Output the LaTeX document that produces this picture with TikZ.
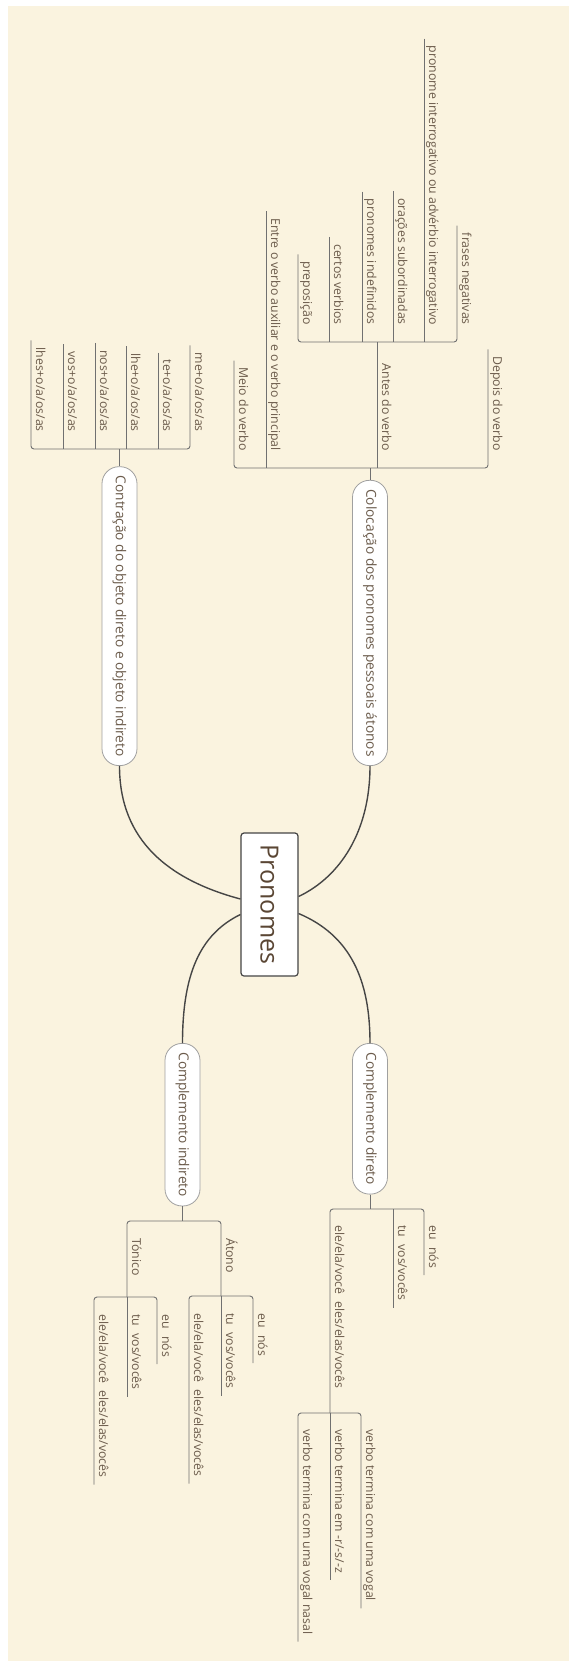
\documentclass[tikz,border=0pt]{standalone}
\usepackage{fontspec}
\setmainfont{Open Sans}
\usepackage{tikz}
\usetikzlibrary{calc}
\definecolor{paper}{HTML}{FAF3DF}
\definecolor{ink}{HTML}{6B5B4B}
\definecolor{rootink}{HTML}{5A4634}
\definecolor{branch}{HTML}{707070}
\definecolor{rootline}{HTML}{454545}
\definecolor{pillline}{HTML}{A0A0A0}
\tikzstyle{root} = [draw=rootline, line width=1.2pt, fill=white, rounded corners=3pt,
    rotate=-90, minimum height=57pt, minimum width=143pt, text=rootink,
    font=\fontsize{25}{30}\selectfont]
\tikzstyle{topic} = [draw=pillline, line width=0.8pt, fill=white, rounded corners=17pt,
    rotate=-90, minimum height=35pt, inner xsep=9pt, text=ink,
    font=\fontsize{13.7}{16}\selectfont]
\tikzstyle{leaf} = [rotate=-90, inner xsep=7pt, inner ysep=2pt, text height=9pt,
    text depth=3pt, text=ink, font=\fontsize{12.3}{15}\selectfont]
\tikzstyle{tree} = [draw=branch, line width=0.9pt, rounded corners=3pt]
\tikzstyle{link} = [draw=rootline, line width=1.4pt]
\newcommand{\gap}{\hspace{0.6em}}

\begin{document}
\begin{tikzpicture}[x=1pt, y=-1pt]
        \useasboundingbox (0, 0) rectangle (569, 1661);
        \fill[paper] (8, 6) rectangle (569, 1661);

        % central topic and main branches
        \node[root, name=pron] at (269.5, 904.5) {Pronomes};
        \node[topic, name=coloc, anchor=east] at (370, 766) {Colocação dos pronomes pessoais átonos};
        \node[topic, name=contr, anchor=east] at (119.5, 766) {Contração do objeto direto e objeto indireto};
        \node[topic, name=cind, anchor=west] at (182.5, 1043) {Complemento indireto};
        \node[topic, name=cdir, anchor=west] at (370, 1043) {Complemento direto};

        \draw[link] ($(pron.north)+(0,-8)$) .. controls +(42,-20) and +(0,65) .. (coloc.east);
        \draw[link] ($(pron.south)+(0,-5.5)$) .. controls +(-71,-19) and +(0,75) .. (contr.east);
        \draw[link] ($(pron.south)+(0,10)$) .. controls +(-41,20) and +(0,-68) .. (cind.west);
        \draw[link] ($(pron.north)+(0,9)$) .. controls +(52,22) and +(0,-63) .. (cdir.west);

        % Colocacao
        \coordinate (colbar) at (370, 468);
        \coordinate (antesbar) at (377, 342);
        \node[leaf, anchor=south east, name=meio] at (234, 458) {Meio do verbo};
        \node[leaf, anchor=south east, name=entre] at (266, 458) {Entre o verbo auxiliar e o verbo principal};
        \node[leaf, anchor=south east, name=antes] at (377, 458) {Antes do verbo};
        \node[leaf, anchor=south east, name=depois] at (488, 458) {Depois do verbo};
        \node[leaf, anchor=south east, name=prep] at (298, 332) {preposição};
        \node[leaf, anchor=south east, name=certos] at (329, 332) {certos verbios};
        \node[leaf, anchor=south east, name=indef] at (362, 332) {pronomes indefinidos};
        \node[leaf, anchor=south east, name=subord] at (393, 332) {orações subordinadas};
        \node[leaf, anchor=south east, name=interrog] at (424, 332) {pronome interrogativo ou advérbio interrogativo};
        \node[leaf, anchor=south east, name=negat] at (457, 332) {frases negativas};

        \draw[tree] (coloc.west) -- (coloc.west |- colbar);
        \draw[tree] (meio.south west) |- (colbar) -| (depois.south west);
        \draw[tree] (entre.south west) -- (entre.south west |- colbar);
        \draw[tree] (antes.south west |- antesbar) -- (antes.south west |- colbar);
        \draw[tree] (prep.south west) |- (antesbar) -| (negat.south west);
        \draw[tree] (certos.south west) -- (certos.south west |- antesbar);
        \draw[tree] (indef.south west) -- (indef.south west |- antesbar);
        \draw[tree] (subord.south west) -- (subord.south west |- antesbar);
        \draw[tree] (interrog.south west) -- (interrog.south west |- antesbar);

        % Contracao
        \coordinate (contrbar) at (119.5, 449);
        \node[leaf, anchor=south east, name=lhes] at (31, 439) {lhes+o/a/os/as};
        \node[leaf, anchor=south east, name=vos] at (63, 439) {vos+o/a/os/as};
        \node[leaf, anchor=south east, name=nos] at (95, 439) {nos+o/a/os/as};
        \node[leaf, anchor=south east, name=lhe] at (126, 439) {lhe+o/a/os/as};
        \node[leaf, anchor=south east, name=te] at (158, 439) {te+o/a/os/as};
        \node[leaf, anchor=south east, name=me] at (190, 439) {me+o/a/os/as};

        \draw[tree] (contr.west) -- (contr.west |- contrbar);
        \draw[tree] (lhes.south west) |- (contrbar) -| (me.south west);
        \draw[tree] (vos.south west) -- (vos.south west |- contrbar);
        \draw[tree] (nos.south west) -- (nos.south west |- contrbar);
        \draw[tree] (lhe.south west) -- (lhe.south west |- contrbar);
        \draw[tree] (te.south west) -- (te.south west |- contrbar);

        % Complemento direto
        \coordinate (dirbar) at (370, 1209);
        \coordinate (elebar) at (330, 1413);
        \node[leaf, anchor=south west, name=d_eu] at (424, 1218) {eu\gap nós};
        \node[leaf, anchor=south west, name=d_tu] at (393, 1218) {tu\gap vos/vocês};
        \node[leaf, anchor=south west, name=d_ele] at (330, 1218) {ele/ela/você\gap eles/elas/vocês};
        \node[leaf, anchor=south west, name=vogal] at (361, 1422) {verbo termina com uma vogal};
        \node[leaf, anchor=south west, name=rsz] at (330, 1422) {verbo termina em -r/-s/-z};
        \node[leaf, anchor=south west, name=nasal] at (298, 1422) {verbo termina com uma vogal nasal};

        \draw[tree] (cdir.east) -- (cdir.east |- dirbar);
        \draw[tree] (d_eu.south east) |- (dirbar) -| (elebar);
        \draw[tree] (d_tu.south west |- dirbar) -- (d_tu.south east);
        \draw[tree] (vogal.south east) |- (elebar) -| (nasal.south east);
        \draw[tree] (elebar) -- (rsz.south east);

        % Complemento indireto
        \coordinate (indbar) at (182.5, 1221);
        \coordinate (atbar) at (221, 1296);
        \coordinate (tobar) at (127, 1297);
        \node[leaf, anchor=south west, name=atono] at (221, 1231) {Átono};
        \node[leaf, anchor=south west, name=tonico] at (127, 1231) {Tónico};
        \node[leaf, anchor=south west, name=a_eu] at (253, 1306) {eu\gap nós};
        \node[leaf, anchor=south west, name=a_tu] at (221, 1306) {tu\gap vos/vocês};
        \node[leaf, anchor=south west, name=a_ele] at (189, 1306) {ele/ela/você\gap eles/elas/vocês};
        \node[leaf, anchor=south west, name=t_eu] at (157, 1307) {eu\gap nós};
        \node[leaf, anchor=south west, name=t_tu] at (127, 1307) {tu\gap vos/vocês};
        \node[leaf, anchor=south west, name=t_ele] at (94, 1307) {ele/ela/você\gap eles/elas/vocês};

        \draw[tree] (cind.east) -- (cind.east |- indbar);
        \draw[tree] (tobar) |- (indbar) -| (atbar);
        \draw[tree] (a_eu.south east) |- (atbar) -| (a_ele.south east);
        \draw[tree] (atbar) -- (a_tu.south east);
        \draw[tree] (t_eu.south east) |- (tobar) -| (t_ele.south east);
        \draw[tree] (tobar) -- (t_tu.south east);
    \end{tikzpicture}
\end{document}
